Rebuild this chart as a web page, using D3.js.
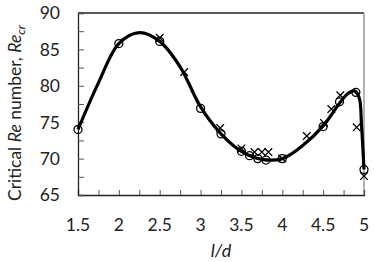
<!DOCTYPE html>
<html>
<head>
<meta charset="utf-8">
<script src="https://cdn.jsdelivr.net/npm/d3@7"></script>
<style>
  body { margin: 0; background: #fff; }
  svg { display: block; font-family: Lato, "Open Sans", sans-serif; }
</style>
</head>
<body>
<div id="chart"></div>
<script>
// circles (data set 1)
var circX = [1.5, 2.0, 2.5, 3.0, 3.25, 3.5, 3.6, 3.7, 3.8, 4.0, 4.5, 4.7, 4.9, 5.0];
var circY = [74.0, 85.8, 86.1, 76.9, 73.4, 71.0, 70.4, 70.0, 69.8, 70.0, 74.4, 77.8, 79.1, 68.5];
// crosses (data set 2)
var crossX = [2.5, 2.8, 3.24, 3.5, 3.66, 3.75, 3.83, 4.0, 4.3, 4.51, 4.6, 4.71, 4.91, 5.0];
var crossY = [86.6, 81.9, 74.2, 71.4, 70.9, 70.9, 70.9, 70.0, 73.1, 74.9, 76.8, 78.7, 74.3, 67.6];
// fitted curve
var fitX = [1.5, 1.75, 2.0, 2.25, 2.5, 2.75, 3.0, 3.25, 3.5, 3.75, 4.0, 4.25, 4.5, 4.7, 4.8, 4.88, 4.94, 4.97, 5.0];
var fitY = [74.0, 80.4, 85.8, 87.3, 86.1, 82.6, 77.1, 73.4, 71.0, 69.9, 70.0, 71.8, 74.5, 77.6, 78.9, 79.3, 78.4, 74.5, 68.5];

var xTicks = [1.5, 2, 2.5, 3, 3.5, 4, 4.5, 5];
var yTicks = [65, 70, 75, 80, 85, 90];

var W = 374, H = 262;
var margin = { top: 13, right: 10, bottom: 67, left: 78 },
    width = 364 - margin.left,
    height = 195 - margin.top;

var x = d3.scaleLinear().domain([1.5, 5]).range([0, width]);
var y = d3.scaleLinear().domain([65, 90]).range([height, 0]);

var svg = d3.select("#chart").append("svg")
    .attr("width", W)
    .attr("height", H)
    .append("g")
    .attr("transform", "translate(" + margin.left + "," + margin.top + ")");

// box: top dark, right grey
svg.append("line").attr("x1", 0).attr("x2", width).attr("y1", 0).attr("y2", 0)
    .attr("stroke", "#222").attr("stroke-width", 1.3);
svg.append("line").attr("x1", width).attr("x2", width).attr("y1", 0).attr("y2", height)
    .attr("stroke", "#8a8a8a").attr("stroke-width", 1.3);

// minor ticks (inside)
var xMinor = d3.range(1.5, 5.01, 0.25);
var yMinor = d3.range(65, 90.01, 2.5);

var xAxis = d3.axisBottom(x).tickValues(xMinor).tickSize(-5).tickFormat("");
var yAxis = d3.axisLeft(y).tickValues(yMinor).tickSize(-6).tickFormat("");

svg.append("g").attr("class", "x axis")
    .attr("transform", "translate(0," + height + ")")
    .call(xAxis);
svg.append("g").attr("class", "y axis")
    .call(yAxis);
svg.selectAll(".axis path").attr("stroke", "#222").attr("stroke-width", 1.3);
svg.selectAll(".axis line").attr("stroke", "#555").attr("stroke-width", 1);

// tick labels
svg.selectAll("text.xl").data(xTicks).enter().append("text")
    .attr("class", "xl")
    .attr("x", function(d){ return x(d); })
    .attr("y", height + 36)
    .attr("text-anchor", "middle")
    .attr("font-size", 17.5)
    .attr("fill", "#222")
    .text(function(d){ return d; });

svg.selectAll("text.yl").data(yTicks).enter().append("text")
    .attr("class", "yl")
    .attr("x", -18)
    .attr("y", function(d){ return y(d); })
    .attr("dy", "0.36em")
    .attr("text-anchor", "end")
    .attr("font-size", 17.5)
    .attr("fill", "#222")
    .text(function(d){ return d; });

// axis titles
svg.append("text")
    .attr("x", width / 2)
    .attr("y", height + 62)
    .attr("text-anchor", "middle")
    .attr("font-size", 18)
    .attr("font-style", "italic")
    .attr("fill", "#222")
    .text("l/d");

var yt = svg.append("text")
    .attr("transform", "translate(" + (-57) + "," + (height / 2 + 9) + ") rotate(-90)")
    .attr("text-anchor", "middle")
    .attr("font-size", 17.5)
    .attr("fill", "#222");
yt.append("tspan").text("Critical ");
yt.append("tspan").attr("font-style", "italic").text("Re");
yt.append("tspan").text(" number, ");
yt.append("tspan").attr("font-style", "italic").text("Re");
yt.append("tspan").attr("font-style", "italic").attr("font-size", 12).attr("dy", 4).text("cr");

// fitted curve
var fit = fitX.map(function(d, i){ return [d, fitY[i]]; });
var line = d3.line()
    .x(function(d){ return x(d[0]); })
    .y(function(d){ return y(d[1]); })
    .curve(d3.curveCatmullRom.alpha(0.5));
svg.append("path").datum(fit)
    .attr("d", line)
    .attr("fill", "none")
    .attr("stroke", "#000")
    .attr("stroke-width", 3.2)
    .attr("stroke-linejoin", "round");

// circles
svg.selectAll("circle.pt").data(circX).enter().append("circle")
    .attr("class", "pt")
    .attr("cx", function(d){ return x(d); })
    .attr("cy", function(d, i){ return y(circY[i]); })
    .attr("r", 4)
    .attr("fill", "none")
    .attr("stroke", "#000")
    .attr("stroke-width", 1.3);

// crosses
var cs = 3.8;
svg.selectAll("path.cross").data(crossX).enter().append("path")
    .attr("class", "cross")
    .attr("d", function(d, i){
        var cx = x(d), cy = y(crossY[i]);
        return "M" + (cx - cs) + "," + (cy - cs) + "L" + (cx + cs) + "," + (cy + cs) +
               "M" + (cx - cs) + "," + (cy + cs) + "L" + (cx + cs) + "," + (cy - cs);
    })
    .attr("stroke", "#000")
    .attr("stroke-width", 1.3)
    .attr("fill", "none");
</script>
</body>
</html>
